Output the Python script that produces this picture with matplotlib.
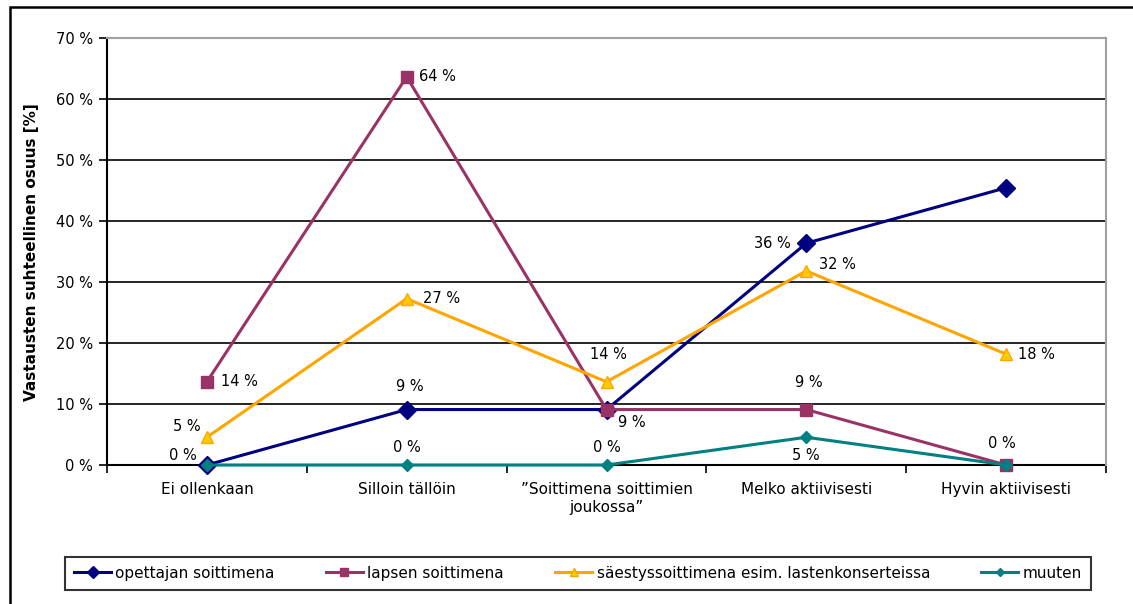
import matplotlib
matplotlib.use("Agg")
import matplotlib.pyplot as plt
from matplotlib.patches import Rectangle
from matplotlib.ticker import FuncFormatter

plt.rcParams['font.family'] = ['DejaVu Sans']

categories = ["Ei ollenkaan", "Silloin tällöin", "”Soittimena soittimien\njoukossa”",
              "Melko aktiivisesti", "Hyvin aktiivisesti"]
series_names = ["opettajan soittimena", "lapsen soittimena",
                "säestyssoittimena esim. lastenkonserteissa", "muuten"]
opettajan = [0.0, 9.09, 9.09, 36.36, 45.45]
lapsen = [13.64, 63.64, 9.09, 9.09, 0.0]
saestys = [4.55, 27.27, 13.64, 31.82, 18.18]
muuten = [0.0, 0.0, 0.0, 4.55, 0.0]
yticks = [0, 10, 20, 30, 40, 50, 60, 70]
ylabel = "Vastausten suhteellinen osuus [%]"

values = [opettajan, lapsen, saestys, muuten]
colors = ["#000080", "#993366", "#FFA500", "#008080"]
faces = ["#000080", "#993366", "#FFCC00", "#008080"]
markers = ["D", "s", "^", "D"]
msizes = [9, 8, 9, 6]
# label offsets in pixels (dx, dy with dy positive downward); None = no label
offsets = [
    [(-24, -9), (3, -23), (25, 13), (-34, 0), None],
    [(33, 0), (31, 0), None, (3, -27), (-4, -22)],
    [(-20, -11), (35, 0), (2, -27), (31, -6), (30, 0)],
    [None, (0, -18), (0, -18), (0, 18), None],
]

W, H = 1133, 604
fig = plt.figure(figsize=(W / 100, H / 100), dpi=100)
ax = fig.add_axes([107 / W, (H - 465) / H, (1106 - 107) / W, (465 - 38) / H])

x = list(range(len(categories)))
for vals, c, fc, m, ms, name in zip(values, colors, faces, markers, msizes, series_names):
    ax.plot(x, vals, color=c, lw=2.2, marker=m, markersize=ms,
            markerfacecolor=fc, markeredgecolor=c, markeredgewidth=1, label=name,
            clip_on=False, zorder=3)

for vals, offs in zip(values, offsets):
    for xi, v, off in zip(x, vals, offs):
        if off is None:
            continue
        ax.annotate(f"{round(v)} %", (xi, v), xytext=(off[0] * 0.72, -off[1] * 0.72),
                    textcoords="offset points", ha="center", va="center",
                    fontsize=10.5, color="black", zorder=5)

ax.set_xlim(-0.5, len(categories) - 0.5)
ax.set_ylim(0, 70)
ax.set_yticks(yticks)
ax.yaxis.set_major_formatter(FuncFormatter(lambda v, p: f"{int(v)} %"))
ax.set_xticks(x)
ax.set_xticklabels(categories, fontsize=11, linespacing=1.3)
ax.set_xticks([i - 0.5 for i in range(len(categories) + 1)], minor=True)
ax.tick_params(axis="x", which="major", length=0, pad=12)
ax.tick_params(axis="x", which="minor", length=6, width=1.2, color="black", direction="out")
ax.tick_params(axis="y", length=6, width=1.2, direction="out", labelsize=10.5, pad=4)
ax.grid(axis="y", color="black", lw=1.2, zorder=1)
ax.set_axisbelow(True)
for s in ["top", "right"]:
    ax.spines[s].set_color("#A0A0A0")
    ax.spines[s].set_linewidth(1.5)
for s in ["left", "bottom"]:
    ax.spines[s].set_color("black")
    ax.spines[s].set_linewidth(1.5)
    ax.spines[s].set_zorder(2)

fig.text(32 / W, 1 - 252 / H, ylabel, rotation=90, ha="center", va="center",
         fontsize=11, fontweight="bold")

leg = fig.legend(loc="lower left", ncol=4, mode="expand",
                 bbox_to_anchor=(65 / W, (H - 590) / H, (1091 - 65) / W, 44 / H),
                 fontsize=11, frameon=True, fancybox=False, edgecolor="black",
                 handlelength=2.4, handletextpad=0.3, borderaxespad=0, borderpad=0.6,
                 markerscale=0.7)
leg.get_frame().set_linewidth(1.5)

fig.patches.append(Rectangle((10 / W, -0.1), 2, (H - 7) / H + 0.1, transform=fig.transFigure,
                             fill=False, edgecolor="black", lw=1.8))

fig.savefig("out.png", dpi=100, facecolor="white")
